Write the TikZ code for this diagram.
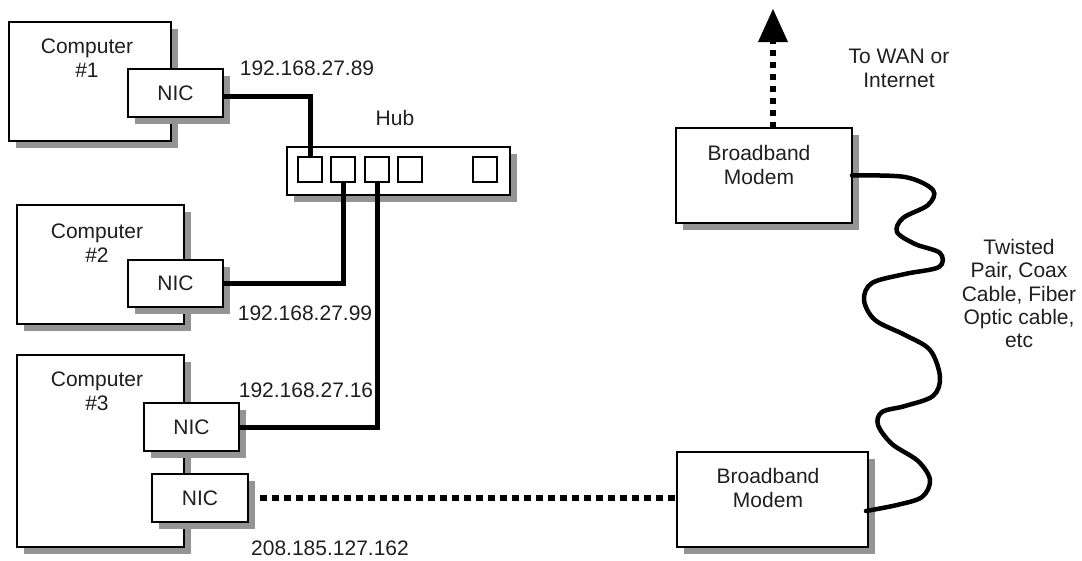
\documentclass[tikz,border=0pt]{standalone}
\usepackage{fontspec}
\setmainfont{Liberation Sans}
\usetikzlibrary{arrows.meta}
\newcommand\mybox[5]{%
  \fill[black!42] ({#2+6.5},{#3+6.5}) rectangle ({#2+#4+6.5},{#3+#5+6.5});
  \node[box, minimum width=#4pt, minimum height=#5pt] (#1) at (#2,#3) {};}
\begin{document}
\begin{tikzpicture}[x=1pt,y=-1pt,
  box/.style={draw=black, line width=1.6pt, fill=white, rectangle, inner sep=0pt, outer sep=0pt, anchor=north west},
  port/.style={draw=black, line width=1.6pt, fill=white, rectangle, inner sep=0pt, outer sep=0pt, anchor=north west,
    minimum width=24pt, minimum height=25pt},
  lbl/.style={font=\fontsize{21}{24}\selectfont, text=black!88, align=center, inner sep=0pt},
  wire/.style={line width=5pt},
  dots/.style={line width=5.5pt, dash pattern=on 6.5pt off 5.5pt},
  cable/.style={line width=4.5pt, line cap=round}
]
\useasboundingbox (0,0) rectangle (1082,560);

% Computers and NICs
\mybox{c1}{9}{22}{162}{119}
\mybox{nic1}{128}{69}{95}{48}
\mybox{c2}{17}{205}{167}{119}
\mybox{nic2}{128}{260}{95}{47}
\mybox{c3}{17}{355}{167}{192}
\mybox{nic3a}{144}{403}{95}{48}
\mybox{nic3b}{152}{474}{96}{48}

\node[lbl] (t1) at (87,58) {Computer\\\#1};
\node[lbl] (t2) at (97,243) {Computer\\\#2};
\node[lbl] (t3) at (97,391) {Computer\\\#3};
\node[lbl] (tn1) at (nic1.center) {NIC};
\node[lbl] (tn2) at (nic2.center) {NIC};
\node[lbl] (tn3a) at (nic3a.center) {NIC};
\node[lbl] (tn3b) at (nic3b.center) {NIC};

% Hub
\mybox{hub}{287}{147}{223}{48}
\node[port] (p1) at (298,157) {};
\node[port] (p2) at (331,157) {};
\node[port] (p3) at (365,157) {};
\node[port] (p4) at (398,157) {};
\node[port] (p5) at (473,157) {};
\node[lbl] (thub) at (395,118) {Hub};

% Modems
\mybox{m1}{676}{128}{176}{95}
\mybox{m2}{677}{452}{191}{95}
\node[lbl] (tm1) at (759,164.5) {Broadband\\Modem};
\node[lbl] (tm2) at (768,487.5) {Broadband\\Modem};

% IP labels
\node[lbl] (ip1) at (307,68) {192.168.27.89};
\node[lbl] (ip2) at (305,313) {192.168.27.99};
\node[lbl] (ip3) at (306,390) {192.168.27.16};
\node[lbl] (ip4) at (330,548) {208.185.127.162};

\node[lbl] (wanl) at (899,68.5) {To WAN or\\Internet};
\node[lbl, font=\fontsize{21}{23.3}\selectfont] (cabl) at (1019,293.5) {Twisted\\Pair, Coax\\Cable, Fiber\\Optic cable,\\etc};

% Wires
\draw[wire] ([yshift=-3pt]nic1.east) -| (p1.north);
\draw[wire] (nic2.east) -| (p2.south);
\draw[wire] (nic3a.east) -| (p3.south);

% Dotted links
\draw[dots] ([xshift=12pt]nic3b.east) -- (m2.west |- nic3b.east);
\coordinate (wan) at (773,9);
\coordinate (headbase) at (773,42);
\draw[dots] (m1.north -| wan) -- (headbase);
\fill[black] (wan) -- ([xshift=-15pt]headbase) -- ([xshift=15pt]headbase) -- cycle;

% Cable
\draw[cable] plot[smooth, tension=0.55] coordinates {
 (m1.east) (905,177) (933,190) (928,205) (903,218) (897,232) (915,244) (940,253)
 (939,267) (905,274) (872,283) (864,300) (875,320) (905,335) (930,350) (940,377)
 (933,396) (905,406) (882,412) (878,425) (892,444) (918,461) (930,480) (922,497)
 (897,505) (866,511)};
\end{tikzpicture}
\end{document}
